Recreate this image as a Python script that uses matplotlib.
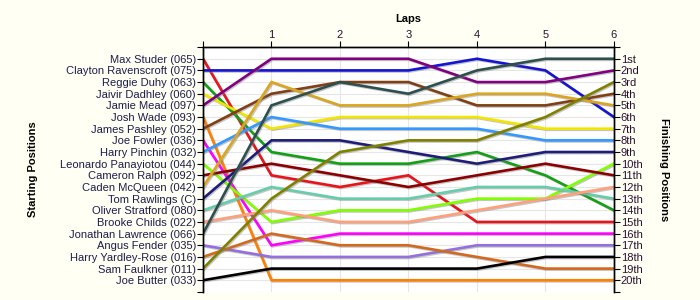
import matplotlib
matplotlib.use("Agg")
import matplotlib.pyplot as plt
import matplotlib.patheffects as pe

plt.rcParams['font.family'] = ['Liberation Sans', 'DejaVu Sans']

laps = [0, 1, 2, 3, 4, 5, 6]
drivers = ["Max Studer (065)", "Clayton Ravenscroft (075)", "Reggie Duhy (063)",
           "Jaivir Dadhley (060)", "Jamie Mead (097)", "Josh Wade (093)",
           "James Pashley (052)", "Joe Fowler (036)", "Harry Pinchin (032)",
           "Leonardo Panayiotou (044)", "Cameron Ralph (092)", "Caden McQueen (042)",
           "Tom Rawlings (C)", "Oliver Stratford (080)", "Brooke Childs (022)",
           "Jonathan Lawrence (066)", "Angus Fender (035)", "Harry Yardley-Rose (016)",
           "Sam Faulkner (011)", "Joe Butter (033)"]
colors = ["#E8141C", "#1414D2", "#14A014", "#F2E600", "#800080", "#FF8000",
          "#804014", "#FF00FF", "#3399FF", "#80FF00", "#8B0000", "#DAA520",
          "#1E1E78", "#66CDAA", "#FFA07A", "#2F4F4F", "#9370DB", "#D2691E",
          "#808000", "#000000"]
positions = [
    [1, 11, 12, 11, 15, 15, 15],
    [2, 2, 2, 2, 1, 2, 6],
    [3, 9, 10, 10, 9, 11, 14],
    [4, 7, 6, 6, 6, 7, 7],
    [5, 1, 1, 1, 3, 3, 2],
    [6, 20, 20, 20, 20, 20, 20],
    [7, 4, 3, 3, 5, 5, 4],
    [8, 17, 16, 16, 16, 16, 16],
    [9, 6, 7, 7, 7, 8, 8],
    [10, 15, 14, 14, 13, 13, 10],
    [11, 10, 11, 12, 11, 10, 11],
    [12, 3, 5, 5, 4, 4, 5],
    [13, 8, 8, 9, 10, 9, 9],
    [14, 12, 13, 13, 12, 12, 13],
    [15, 14, 15, 15, 14, 13, 12],
    [16, 5, 3, 4, 2, 1, 1],
    [17, 18, 18, 18, 17, 17, 17],
    [18, 16, 17, 17, 18, 19, 19],
    [19, 13, 9, 8, 8, 6, 3],
    [20, 19, 19, 19, 19, 18, 18],
]
finish_labels = ["1st", "2nd", "3rd"] + [f"{i}th" for i in range(4, 21)]

fig = plt.figure(figsize=(7, 3), dpi=100, facecolor="#FFFFF4")
ax = fig.add_axes([0.290, 0.027, 0.587, 0.816])
ax.set_facecolor("#FFFFFF")

for p in range(1, 21):
    ax.axhline(p, color="#E6E6E6", lw=0.8, zorder=0)
for l in laps[1:]:
    ax.axvline(l, color="#E6E6E6", lw=0.8, zorder=0)

for name, col, pos in zip(drivers, colors, positions):
    ax.plot(laps, pos, color=col, lw=1.9, solid_joinstyle="miter", zorder=2,
            path_effects=[pe.SimpleLineShadow(offset=(0.8, -0.8), shadow_color="#808080", alpha=0.45),
                          pe.Normal()])

ax.set_xlim(0, 6)
ax.set_ylim(21, 0)

ax.xaxis.tick_top()
ax.xaxis.set_label_position("top")
ax.set_xticks(laps)
ax.set_xticklabels([""] + [str(l) for l in laps[1:]], fontsize=8, color="#2A1030")
ax.tick_params(axis="x", length=4, width=0.8, pad=1)
ax.set_xlabel("Laps", fontsize=8, fontweight="bold", labelpad=6)

ax.set_yticks(range(0, 22))
ax.set_yticklabels([""] + drivers + [""], fontsize=8, color="#1C1C4C")
ax.tick_params(axis="y", length=4, width=0.8, pad=1, left=True, right=False)
ax.set_ylabel("Starting Positions", fontsize=8, fontweight="bold", labelpad=16)

ax2 = ax.twinx()
ax2.set_ylim(21, 0)
ax2.set_yticks(range(0, 22))
ax2.set_yticklabels([""] + finish_labels + [""], fontsize=8, color="#2A1030")
ax2.tick_params(axis="y", length=4, width=0.8, pad=1)
ax2.set_ylabel("Finishing Positions", fontsize=8, fontweight="bold", rotation=270, labelpad=19)

for a in (ax, ax2):
    a.spines["bottom"].set_visible(False)
    for s in ("top", "left", "right"):
        a.spines[s].set_linewidth(1.0)

fig.savefig("out.png", dpi=100, facecolor=fig.get_facecolor())
